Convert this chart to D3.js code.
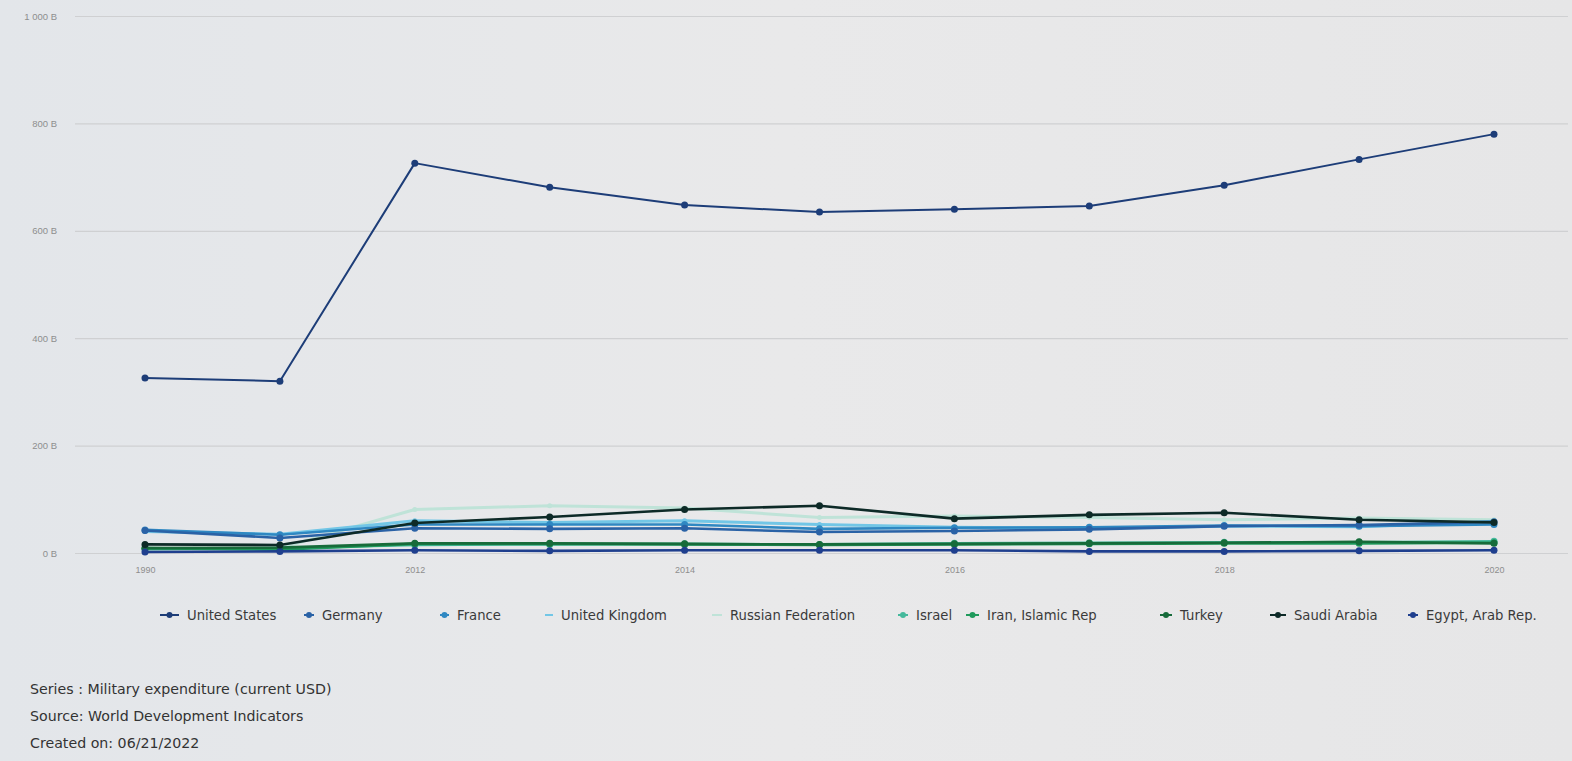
<!DOCTYPE html>
<html><head><meta charset="utf-8">
<script src="https://cdn.jsdelivr.net/npm/d3@7"></script>
<style>
html,body{margin:0;padding:0;background:#e7e7e9;}
svg{display:block;font-family:"DejaVu Sans",Verdana,sans-serif;}
</style></head><body>
<svg id="chart" width="1572" height="761"></svg>
<script>
const years = ["1990","2000","2012","2013","2014","2015","2016","2017","2018","2019","2020"];
const xTickLabels = ["1990","2012","2014","2016","2018","2020"];
const yTicks = [0,200,400,600,800,1000];
const seriesNames = ["United States","Germany","France","United Kingdom","Russian Federation","Israel","Iran, Islamic Rep","Turkey","Saudi Arabia","Egypt, Arab Rep."];
const seriesColors = ["#1d3d78","#2a62a6","#2f88c2","#72c6e6","#bfe3d8","#45b99c","#1f9a5c","#176b3a","#0d2a27","#1f3f8e"];
// values in billions of current USD
const usValues      = [326,320,726,681,648,635,640,646,685,733,780];
const germanyValues = [42,28,46,45,46,39,41,44,50,52,58];
const franceValues  = [43,34,53,53,53,45,47,48,51,50,53];
const ukValues      = [40,35,60,57,60,53,48,46,50,49,59];
const russiaValues  = [null,9,81,88,84,66,69,66,62,65,62];
const israelValues  = [7,9,15,16,17,16,18,19,20,20,22];
const iranValues    = [9,6,17,17,16,15,16,17,18,18,19];
const turkeyValues  = [9,10,18,18,17,16,17,18,19,21,18];
const saudiValues   = [16,15,56,67,81,88,64,71,75,62,57];
const egyptValues   = [2,3,5,4,5,5,5,3,3,4,5];
const allValues = [usValues,germanyValues,franceValues,ukValues,russiaValues,israelValues,iranValues,turkeyValues,saudiValues,egyptValues];
const footerLines = ["Series : Military expenditure (current USD)","Source: World Development Indicators","Created on: 06/21/2022"];

const svg = d3.select("#chart");
const W = 1572, H = 761;
svg.append("rect").attr("width",W).attr("height",H).attr("fill","#e7e7e9");
const grad = svg.append("defs").append("linearGradient").attr("id","bg").attr("x1","0").attr("x2","1");
grad.append("stop").attr("offset","0").attr("stop-color","#e3e6ea");
grad.append("stop").attr("offset","0.5").attr("stop-color","#e9e9ea");
grad.append("stop").attr("offset","1").attr("stop-color","#e6e6e7");
svg.append("rect").attr("width",W).attr("height",H).attr("fill","url(#bg)");

const x = d3.scalePoint().domain(years).range([145,1494]);
const y = d3.scaleLinear().domain([0,1000]).range([553,16]);

// grid + y labels
const yAxis = svg.append("g").attr("transform","translate(75,0)")
  .call(d3.axisLeft(y).tickValues(yTicks).tickSize(-(1568-75)).tickPadding(18)
    .tickFormat(d => (d===1000 ? "1 000" : d) + " B"));
yAxis.select(".domain").remove();
yAxis.selectAll(".tick line").attr("stroke","#cfd0d2").attr("stroke-width",1.2);
yAxis.selectAll(".tick text").attr("fill","#8e8e8e").attr("font-size",9.5);

// x labels
const xAxis = svg.append("g").attr("transform","translate(0,553)")
  .call(d3.axisBottom(x).tickValues(xTickLabels).tickSize(0).tickPadding(14));
xAxis.select(".domain").remove();
xAxis.selectAll(".tick text").attr("fill","#8e8e8e").attr("font-size",9);

const line = d3.line().defined(d => d.v !== null).x(d => x(d.year)).y(d => y(d.v));

// draw lower series first, US last
const order = [4,3,2,1,5,6,7,9,8,0];
order.forEach(i => {
  const data = years.map((yr,j) => ({year:yr, v:allValues[i][j]}));
  const g = svg.append("g");
  const lw = i===0 ? 2 : (i===4||i===3 ? 3 : 2.6);
  g.append("path").datum(data).attr("d",line).attr("fill","none")
    .attr("stroke",seriesColors[i]).attr("stroke-width",lw).attr("stroke-linejoin","round");
  g.selectAll("circle").data(data.filter(d=>d.v!==null)).join("circle")
    .attr("cx",d=>x(d.year)).attr("cy",d=>y(d.v)).attr("r", i===4||i===3 ? 2.5 : 3.5)
    .attr("fill",seriesColors[i]);
});

// legend
const legendX = [160,304,440,545,712,898,966,1160,1270,1408];
const legendTextX = [187,322,457,561,730,916,987,1180,1294,1426];
const leg = svg.append("g");
seriesNames.forEach((n,i) => {
  const mx0 = legendX[i], mx1 = legendTextX[i]-8;
  leg.append("line").attr("x1",mx0).attr("x2",mx1).attr("y1",615).attr("y2",615)
    .attr("stroke",seriesColors[i]).attr("stroke-width",2);
  if (i!==3 && i!==4) leg.append("circle").attr("cx",(mx0+mx1)/2).attr("cy",615).attr("r",3).attr("fill",seriesColors[i]);
  leg.append("text").attr("x",legendTextX[i]).attr("y",619.5).attr("font-size",13.2)
    .attr("fill","#3a3a3a").text(n);
});

// footer
footerLines.forEach((t,i) => {
  svg.append("text").attr("x",30).attr("y",694+i*26.8).attr("font-size",14.2).attr("fill","#333").text(t);
});
</script>
</body></html>
